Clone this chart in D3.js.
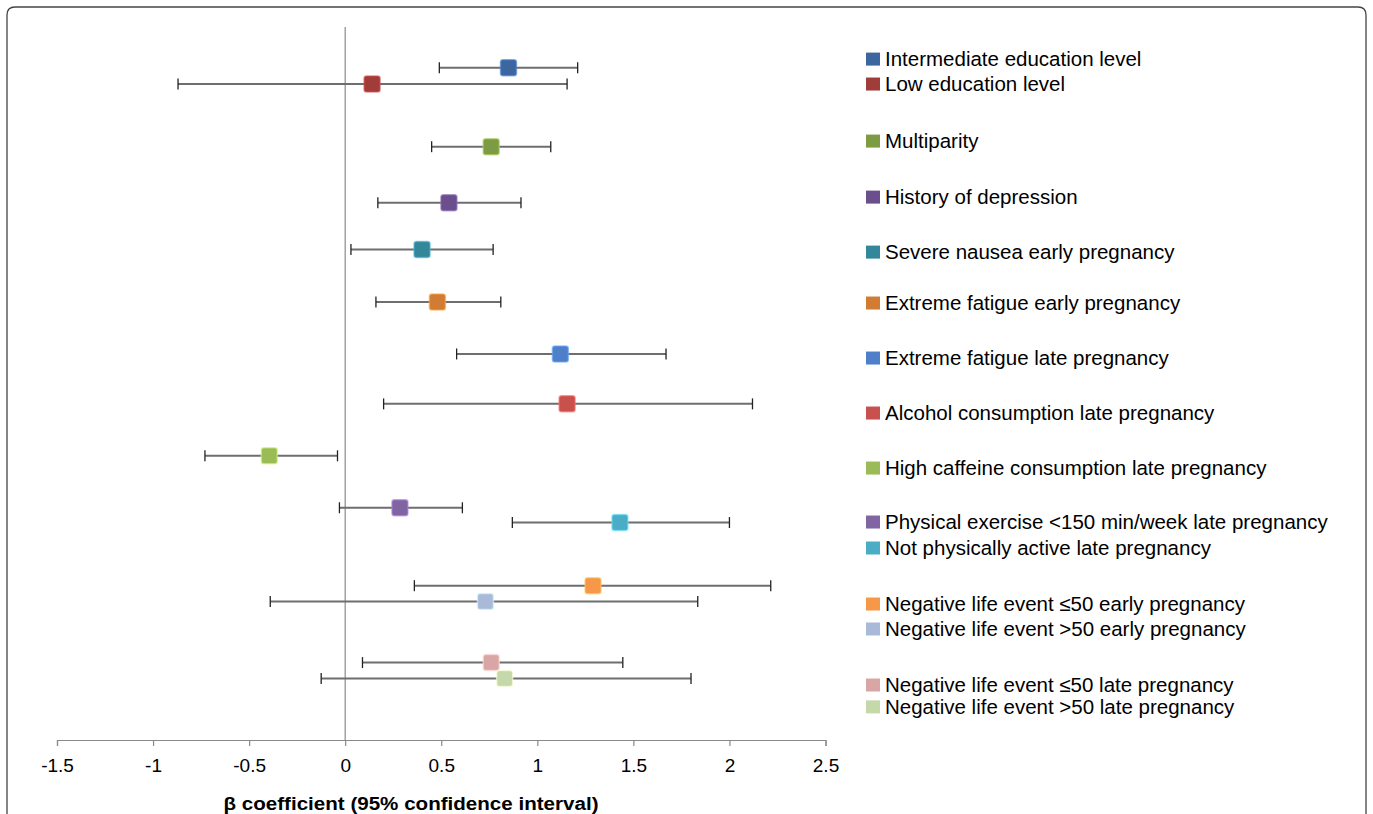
<!DOCTYPE html>
<html>
<head>
<meta charset="utf-8">
<script src="https://cdn.jsdelivr.net/npm/d3@7"></script>
<style>
  html, body { margin: 0; padding: 0; background: #fff; }
  svg { display: block; }
</style>
</head>
<body>
<svg id="chart" width="1373" height="814"></svg>
<script>
// ---- data ----
const categories = [
  "Intermediate education level",
  "Low education level",
  "Multiparity",
  "History of depression",
  "Severe nausea early pregnancy",
  "Extreme fatigue early pregnancy",
  "Extreme fatigue late pregnancy",
  "Alcohol consumption late pregnancy",
  "High caffeine consumption late pregnancy",
  "Physical exercise <150 min/week late pregnancy",
  "Not physically active late pregnancy",
  "Negative life event \u226450 early pregnancy",
  "Negative life event >50 early pregnancy",
  "Negative life event \u226450 late pregnancy",
  "Negative life event >50 late pregnancy"
];
const beta  = [0.85, 0.14, 0.76, 0.54, 0.40, 0.48, 1.12, 1.155, -0.395, 0.285, 1.43, 1.29, 0.73, 0.76, 0.83];
const lower = [0.49, -0.87, 0.45, 0.17, 0.03, 0.16, 0.58, 0.20, -0.73, -0.03, 0.87, 0.36, -0.39, 0.09, -0.125];
const upper = [1.21, 1.155, 1.07, 0.915, 0.77, 0.81, 1.67, 2.12, -0.04, 0.61, 2.00, 2.215, 1.835, 1.445, 1.80];
// vertical position of each estimate (chart's hidden y values)
const rowY  = [13.2, 12.88, 11.65, 10.55, 9.63, 8.6, 7.58, 6.6, 5.58, 4.56, 4.27, 3.03, 2.72, 1.52, 1.21];
// legend row positions (same hidden y scale)
const legendY = [13.37, 12.88, 11.76, 10.66, 9.58, 8.58, 7.5, 6.42, 5.34, 4.28, 3.77, 2.67, 2.18, 1.08, 0.65];
const colors = ["#3C66A0", "#A03C3A", "#7D9B42", "#6B4F8C", "#33879B", "#D27B33",
                "#4E7FC8", "#C8504D", "#9BBB57", "#8165A3", "#4BACC6", "#F79748",
                "#A9BAD9", "#D9A6A5", "#C5D8A9"];
const xTicks = [-1.5, -1, -0.5, 0, 0.5, 1, 1.5, 2, 2.5];
const xTitle = "\u03B2 coefficient (95% confidence interval)";

const data = categories.map((c, i) => ({
  name: c, b: beta[i], lo: lower[i], hi: upper[i], y: rowY[i], ly: legendY[i], color: colors[i]
}));

// ---- layout ----
const svg = d3.select("#chart");
const font = "'Liberation Sans', Arial, Helvetica, sans-serif";

// frame
svg.append("path")
  .attr("d", "M7,830 L7,15 Q7,7 15,7 L1358,7 Q1366,7 1366,15 L1366,830")
  .attr("fill", "none").attr("stroke", "#444").attr("stroke-width", 1.3);

const x = d3.scaleLinear().domain([-1.5, 2.5]).range([57, 825.5]);
const y = d3.scaleLinear().domain([0, 14]).range([740, 27]);

// vertical zero line (y axis)
svg.append("line")
  .attr("x1", x(0)).attr("x2", x(0))
  .attr("y1", y(14)).attr("y2", y(0))
  .attr("stroke", "#8a8a8a").attr("stroke-width", 1.2);

// x axis
const xAxis = d3.axisBottom(x).tickValues(xTicks).tickSize(6).tickPadding(13)
  .tickFormat(d => String(d));
const gx = svg.append("g").attr("transform", `translate(0,${y(0)})`).call(xAxis);
gx.select(".domain").attr("stroke", "#8a8a8a").attr("stroke-width", 1.2);
gx.selectAll(".tick line").attr("stroke", "#8a8a8a").attr("stroke-width", 1.2);
gx.selectAll(".tick text")
  .attr("font-family", font).attr("font-size", 19).attr("fill", "#000");

// axis title
svg.append("text")
  .attr("x", 411).attr("y", 810)
  .attr("text-anchor", "middle")
  .attr("font-family", font).attr("font-size", 18).attr("font-weight", "bold")
  .attr("textLength", 375).attr("lengthAdjust", "spacingAndGlyphs")
  .text(xTitle);

// error bars
const g = svg.append("g");
const bars = g.selectAll("g.bar").data(data).enter().append("g").attr("class", "bar");
bars.append("line")
  .attr("x1", d => x(d.lo)).attr("x2", d => x(d.hi))
  .attr("y1", d => y(d.y)).attr("y2", d => y(d.y))
  .attr("stroke", "#6e6e6e").attr("stroke-width", 2);
bars.append("line")
  .attr("x1", d => x(d.lo)).attr("x2", d => x(d.lo))
  .attr("y1", d => y(d.y) - 5.5).attr("y2", d => y(d.y) + 5.5)
  .attr("stroke", "#222").attr("stroke-width", 1.3);
bars.append("line")
  .attr("x1", d => x(d.hi)).attr("x2", d => x(d.hi))
  .attr("y1", d => y(d.y) - 5.5).attr("y2", d => y(d.y) + 5.5)
  .attr("stroke", "#222").attr("stroke-width", 1.3);

// markers
const ms = 16;
bars.append("rect")
  .attr("x", d => x(d.b) - ms / 2).attr("y", d => y(d.y) - ms / 2)
  .attr("width", ms).attr("height", ms).attr("rx", 2.5)
  .attr("fill", d => d.color)
  .attr("stroke", d => d3.color(d.color).brighter(0.8))
  .attr("stroke-opacity", 0.6).attr("stroke-width", 1.5);

// legend
const lg = svg.append("g");
const items = lg.selectAll("g.item").data(data).enter().append("g").attr("class", "item")
  .attr("transform", d => `translate(866,${y(d.ly)})`);
items.append("rect")
  .attr("x", 0).attr("y", -6.5).attr("width", 14).attr("height", 13)
  .attr("fill", d => d.color);
items.append("text")
  .attr("x", 19).attr("y", 0).attr("dy", "0.36em")
  .attr("font-family", font).attr("font-size", 20.5).attr("fill", "#000")
  .text(d => d.name);
</script>
</body>
</html>
